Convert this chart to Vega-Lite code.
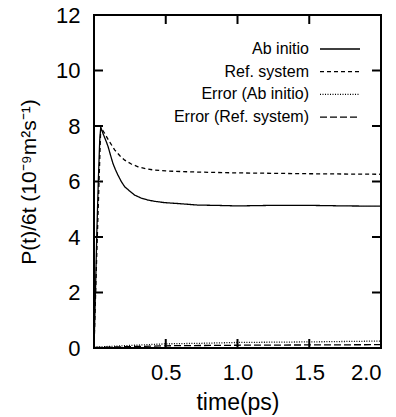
{
  "$schema": "https://vega.github.io/schema/vega-lite/v6.json",
  "width": 287,
  "height": 333,
  "autosize": "none",
  "padding": {"left": 94, "top": 15, "right": 15, "bottom": 69},
  "background": "white",
  "config": {
    "font": "Liberation Sans",
    "view": {"stroke": "black", "strokeWidth": 2}
  },
  "datasets": {
    "ytick": [
      {"v": 2, "side": 0}, {"v": 4, "side": 0}, {"v": 6, "side": 0}, {"v": 8, "side": 0}, {"v": 10, "side": 0},
      {"v": 2, "side": 2}, {"v": 4, "side": 2}, {"v": 6, "side": 2}, {"v": 8, "side": 2}, {"v": 10, "side": 2}
    ],
    "xtick": [
      {"t": 0.5, "edge": 0}, {"t": 1.0, "edge": 0}, {"t": 1.5, "edge": 0},
      {"t": 0.5, "edge": 12}, {"t": 1.0, "edge": 12}, {"t": 1.5, "edge": 12}
    ]
  },
  "data": {
    "values": [
      {"series": "Ab initio", "t": 0.0, "v": 0.0},
      {"series": "Ab initio", "t": 0.01, "v": 2.0},
      {"series": "Ab initio", "t": 0.02, "v": 4.2},
      {"series": "Ab initio", "t": 0.03, "v": 6.0},
      {"series": "Ab initio", "t": 0.04, "v": 7.5},
      {"series": "Ab initio", "t": 0.047, "v": 7.95},
      {"series": "Ab initio", "t": 0.062, "v": 7.74},
      {"series": "Ab initio", "t": 0.086, "v": 7.43},
      {"series": "Ab initio", "t": 0.098, "v": 7.26},
      {"series": "Ab initio", "t": 0.115, "v": 6.95},
      {"series": "Ab initio", "t": 0.132, "v": 6.65},
      {"series": "Ab initio", "t": 0.15, "v": 6.42},
      {"series": "Ab initio", "t": 0.167, "v": 6.23},
      {"series": "Ab initio", "t": 0.19, "v": 6.0},
      {"series": "Ab initio", "t": 0.214, "v": 5.81},
      {"series": "Ab initio", "t": 0.25, "v": 5.65},
      {"series": "Ab initio", "t": 0.283, "v": 5.51},
      {"series": "Ab initio", "t": 0.33, "v": 5.4},
      {"series": "Ab initio", "t": 0.376, "v": 5.33},
      {"series": "Ab initio", "t": 0.43, "v": 5.28},
      {"series": "Ab initio", "t": 0.49, "v": 5.24},
      {"series": "Ab initio", "t": 0.6, "v": 5.2},
      {"series": "Ab initio", "t": 0.725, "v": 5.15},
      {"series": "Ab initio", "t": 0.85, "v": 5.14},
      {"series": "Ab initio", "t": 1.0, "v": 5.12},
      {"series": "Ab initio", "t": 1.25, "v": 5.14},
      {"series": "Ab initio", "t": 1.5, "v": 5.14},
      {"series": "Ab initio", "t": 1.75, "v": 5.12},
      {"series": "Ab initio", "t": 2.0, "v": 5.11},
      {"series": "Ref. system", "t": 0.0, "v": 0.0},
      {"series": "Ref. system", "t": 0.02, "v": 3.5},
      {"series": "Ref. system", "t": 0.047, "v": 7.95},
      {"series": "Ref. system", "t": 0.074, "v": 7.74},
      {"series": "Ref. system", "t": 0.1, "v": 7.5},
      {"series": "Ref. system", "t": 0.144, "v": 7.14},
      {"series": "Ref. system", "t": 0.18, "v": 6.93},
      {"series": "Ref. system", "t": 0.214, "v": 6.77},
      {"series": "Ref. system", "t": 0.26, "v": 6.63},
      {"series": "Ref. system", "t": 0.307, "v": 6.53},
      {"series": "Ref. system", "t": 0.36, "v": 6.46},
      {"series": "Ref. system", "t": 0.423, "v": 6.41},
      {"series": "Ref. system", "t": 0.5, "v": 6.38},
      {"series": "Ref. system", "t": 0.655, "v": 6.35},
      {"series": "Ref. system", "t": 0.8, "v": 6.33},
      {"series": "Ref. system", "t": 1.0, "v": 6.31},
      {"series": "Ref. system", "t": 1.5, "v": 6.28},
      {"series": "Ref. system", "t": 2.0, "v": 6.26},
      {"series": "Error (Ab initio)", "t": 0.0, "v": 0.03},
      {"series": "Error (Ab initio)", "t": 0.2, "v": 0.08},
      {"series": "Error (Ab initio)", "t": 0.5, "v": 0.15},
      {"series": "Error (Ab initio)", "t": 0.75, "v": 0.17},
      {"series": "Error (Ab initio)", "t": 1.0, "v": 0.2},
      {"series": "Error (Ab initio)", "t": 1.5, "v": 0.22},
      {"series": "Error (Ab initio)", "t": 2.0, "v": 0.25},
      {"series": "Error (Ref. system)", "t": 0.0, "v": 0.02},
      {"series": "Error (Ref. system)", "t": 0.5, "v": 0.08},
      {"series": "Error (Ref. system)", "t": 1.0, "v": 0.1},
      {"series": "Error (Ref. system)", "t": 2.0, "v": 0.12}
    ]
  },
  "layer": [
    {
      "mark": {"type": "line", "color": "black", "strokeWidth": 1.3, "clip": true},
      "encoding": {
        "x": {
          "field": "t", "type": "quantitative",
          "scale": {"domain": [0, 2], "nice": false, "zero": false},
          "axis": {"orient": "bottom", "values": [0.5, 1, 1.5, 2], "format": ".1f", "title": "time(ps)",
            "grid": false, "domain": false, "ticks": false,
            "labelColor": "black", "labelFontSize": 22, "labelFont": "Liberation Sans", "labelPadding": 14,
            "titleColor": "black", "titleFont": "Liberation Sans", "titleFontWeight": 400, "titleFontSize": 23, "titlePadding": 8}
        },
        "y": {
          "field": "v", "type": "quantitative",
          "scale": {"domain": [0, 12], "nice": false},
          "axis": {"orient": "left", "values": [0, 2, 4, 6, 8, 10, 12], "title": "P(t)/6t (10⁻⁹m²s⁻¹)",
            "grid": false, "domain": false, "ticks": false,
            "labelColor": "black", "labelFontSize": 22, "labelFont": "Liberation Sans", "labelPadding": 14,
            "titleColor": "black", "titleFont": "Liberation Sans", "titleFontWeight": 400, "titleFontSize": 21, "titlePadding": 16}
        },
        "strokeDash": {
          "field": "series", "type": "nominal",
          "scale": {
            "domain": ["Ab initio", "Ref. system", "Error (Ab initio)", "Error (Ref. system)"],
            "range": [[1, 0], [4, 3], [1, 1.5], [7, 3]]
          },
          "legend": {
            "orient": "none",
            "legendX": 238,
            "legendY": 26,
            "title": null,
            "symbolType": "M-4,0H4",
            "symbolSize": 100,
            "symbolStrokeWidth": 1.3,
            "symbolStrokeColor": "black",
            "symbolFillColor": "transparent",
            "labelFontSize": 16,
            "labelColor": "black",
            "labelFont": "Liberation Sans",
            "labelAlign": "right",
            "labelOffset": -39,
            "rowPadding": 6.7,
            "labelLimit": 300
          }
        }
      }
    },
    {
      "data": {"name": "ytick"},
      "mark": {"type": "tick", "orient": "horizontal", "size": 18, "thickness": 2, "color": "black", "opacity": 1, "clip": true},
      "encoding": {
        "x": {"field": "side", "type": "quantitative", "axis": null},
        "y": {"field": "v", "type": "quantitative", "axis": null}
      }
    },
    {
      "data": {"name": "xtick"},
      "mark": {"type": "tick", "orient": "vertical", "size": 18, "thickness": 2, "color": "black", "opacity": 1, "clip": true},
      "encoding": {
        "x": {"field": "t", "type": "quantitative", "axis": null},
        "y": {"field": "edge", "type": "quantitative", "axis": null}
      }
    }
  ],
  "resolve": {"axis": {"x": "independent", "y": "independent"}}
}
